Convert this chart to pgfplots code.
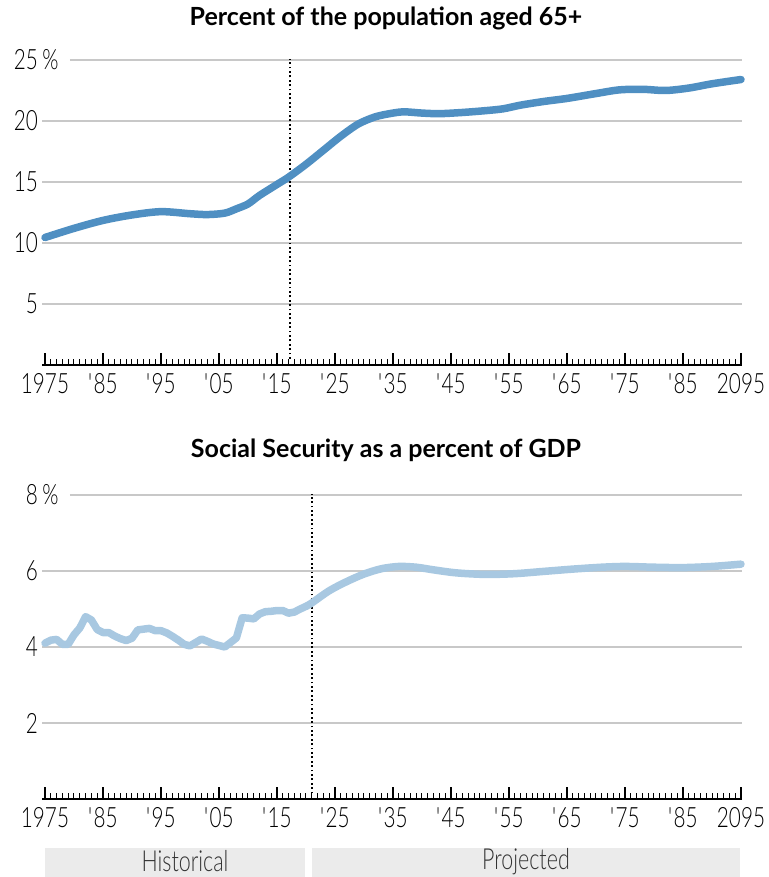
\documentclass[border=0pt]{standalone}
\usepackage{pgfplots}
\pgfplotsset{compat=1.18}
\usepackage{fontspec}
\setmainfont{Lato}
\newfontfamily\condfont{Lato Light}[FakeStretch=0.74]
\newfontfamily\headfont{Lato}[FakeStretch=1.0]

\definecolor{popblue}{HTML}{4F8FC2}
\definecolor{ssblue}{HTML}{A8C8E1}
\definecolor{gridgray}{HTML}{C8C8C8}
\definecolor{boxgray}{HTML}{EBEBEB}
\definecolor{boxtext}{HTML}{333333}

\tikzset{
  grid line/.style={gridgray, line width=1.3pt},
  marker line/.style={black, line width=1.8pt, dash pattern=on 1.8pt off 2.6pt},
}

\pgfplotsset{
  panel/.style={
    scale only axis,
    width=699.07pt,
    xmin=1974.57, xmax=2095.1,
    ymin=0,
    clip=false,
    axis x line*=bottom,
    axis y line*=left,
    y axis line style={draw=none},
    x axis line style={line width=1.5pt, black, -},
    xtick={1975,1985,...,2095},
    xticklabels={1975,\textquotesingle85,\textquotesingle95,\textquotesingle05,\textquotesingle15,\textquotesingle25,\textquotesingle35,\textquotesingle45,\textquotesingle55,\textquotesingle65,\textquotesingle75,\textquotesingle85,2095},
    minor x tick num=9,
    tick align=inside,
    major tick length=12pt,
    minor tick length=6pt,
    major x tick style={line width=1.4pt, black},
    minor x tick style={line width=1pt, black},
    major y tick style={draw=none},
    /pgf/number format/assume math mode=true,
    ticklabel style={font=\condfont\fontsize{28}{28}\selectfont, text=black},
    xticklabel style={anchor=north, inner sep=0pt, yshift=-8pt, text height=20pt},
    yticklabel style={anchor=east, inner sep=0pt, xshift=-4.5pt},
  },
}

% Share of the population aged 65 and over (percent)
\pgfplotstableread{
year value
1975 10.45
1980 11.20
1985 11.85
1990 12.30
1995 12.57
2000 12.40
2003 12.33
2006 12.45
2008 12.80
2010 13.20
2012 13.90
2015 14.80
2017 15.40
2020 16.45
2023 17.60
2026 18.75
2029 19.75
2032 20.35
2035 20.65
2037 20.75
2040 20.65
2043 20.60
2047 20.70
2051 20.85
2054 21.00
2057 21.30
2061 21.60
2065 21.85
2070 22.25
2074 22.55
2078 22.60
2082 22.50
2086 22.70
2090 23.05
2095 23.40
}\popdata

% Social Security outlays, percent of GDP: annual history
\pgfplotstableread{
year value
1975 4.10
1976 4.18
1977 4.20
1978 4.07
1979 4.07
1980 4.32
1981 4.50
1982 4.80
1983 4.71
1984 4.46
1985 4.38
1986 4.38
1987 4.29
1988 4.22
1989 4.17
1990 4.23
1991 4.45
1992 4.47
1993 4.49
1994 4.43
1995 4.43
1996 4.37
1997 4.28
1998 4.18
1999 4.07
2000 4.03
2001 4.12
2002 4.21
2003 4.15
2004 4.08
2005 4.04
2006 4.00
2007 4.12
2008 4.24
2009 4.77
2010 4.76
2011 4.74
2012 4.87
2013 4.93
2014 4.94
2015 4.96
2016 4.96
2017 4.89
2018 4.92
2019 5.00
2020 5.07
}\sshist

% Social Security outlays, percent of GDP: projection
\pgfplotstableread{
year value
2020 5.07
2021 5.16
2024 5.48
2027 5.72
2030 5.92
2033 6.06
2036 6.12
2039 6.10
2042 6.03
2046 5.95
2051 5.91
2056 5.93
2061 5.99
2066 6.05
2071 6.10
2075 6.12
2080 6.10
2085 6.09
2090 6.12
2095 6.18
}\ssproj

\begin{document}
\begin{tikzpicture}

% Top panel: population aged 65+
\begin{axis}[panel, name=top, at={(0pt,0pt)}, anchor=south west,
  height=305pt, ymax=25,
  ytick={5,10,15,20,25},
  yticklabels={5,10,15,20,25\rlap{\,\%}},
]
\draw[grid line] (axis cs:1974.57,5) -- (axis cs:2095.1,5);
\draw[grid line] (axis cs:1974.57,10) -- (axis cs:2095.1,10);
\draw[grid line] (axis cs:1974.57,15) -- (axis cs:2095.1,15);
\draw[grid line] (axis cs:1974.57,20) -- (axis cs:2095.1,20);
\draw[grid line] (axis cs:1979.3,25) -- (axis cs:2095.1,25);
\draw[marker line] (axis cs:2017.2,0.5) -- (axis cs:2017.2,25.1);
\addplot[popblue, line width=7.5pt, line cap=round, line join=round, smooth, tension=0.5]
  table[x=year, y=value] {\popdata};
\end{axis}

% Bottom panel: Social Security spending
\begin{axis}[panel, name=bot, at={(0pt,-434pt)}, anchor=south west,
  height=304pt, ymax=8,
  ytick={2,4,6,8},
  yticklabels={2,4,6,8\rlap{\,\%}},
]
\draw[grid line] (axis cs:1974.57,2) -- (axis cs:2095.1,2);
\draw[grid line] (axis cs:1974.57,4) -- (axis cs:2095.1,4);
\draw[grid line] (axis cs:1974.57,6) -- (axis cs:2095.1,6);
\draw[grid line] (axis cs:1979.3,8) -- (axis cs:2095.1,8);
\draw[marker line] (axis cs:2021,0.15) -- (axis cs:2021,8.03);
\addplot[ssblue, line width=7.5pt, line cap=round, line join=round]
  table[x=year, y=value] {\sshist};
\addplot[ssblue, line width=7.5pt, line cap=round, line join=round, smooth, tension=0.5]
  table[x=year, y=value] {\ssproj};
\end{axis}

% Panel titles
\node[font=\headfont\bfseries\fontsize{25}{25}\selectfont] at (343.5pt,347pt)
  {Percent of the population aged 65+};
\node[font=\headfont\bfseries\fontsize{25}{25}\selectfont] at (343.5pt,-85pt)
  {Social Security as a percent of GDP};

% Period bands under the time axis
\fill[boxgray] (2.5pt,-512pt) rectangle (262.5pt,-483pt);
\fill[boxgray] (269.5pt,-512pt) rectangle (697.5pt,-483pt);
\node[font=\condfont\fontsize{29}{29}\selectfont, text=boxtext, inner sep=0pt] at (142.5pt,-496.5pt) {Historical};
\node[font=\condfont\fontsize{29}{29}\selectfont, text=boxtext, inner sep=0pt] at (483.5pt,-496.5pt) {Projected};

\pgfresetboundingbox
\useasboundingbox (-42.5pt,-512pt) rectangle (725.5pt,365pt);
\end{tikzpicture}
\end{document}
